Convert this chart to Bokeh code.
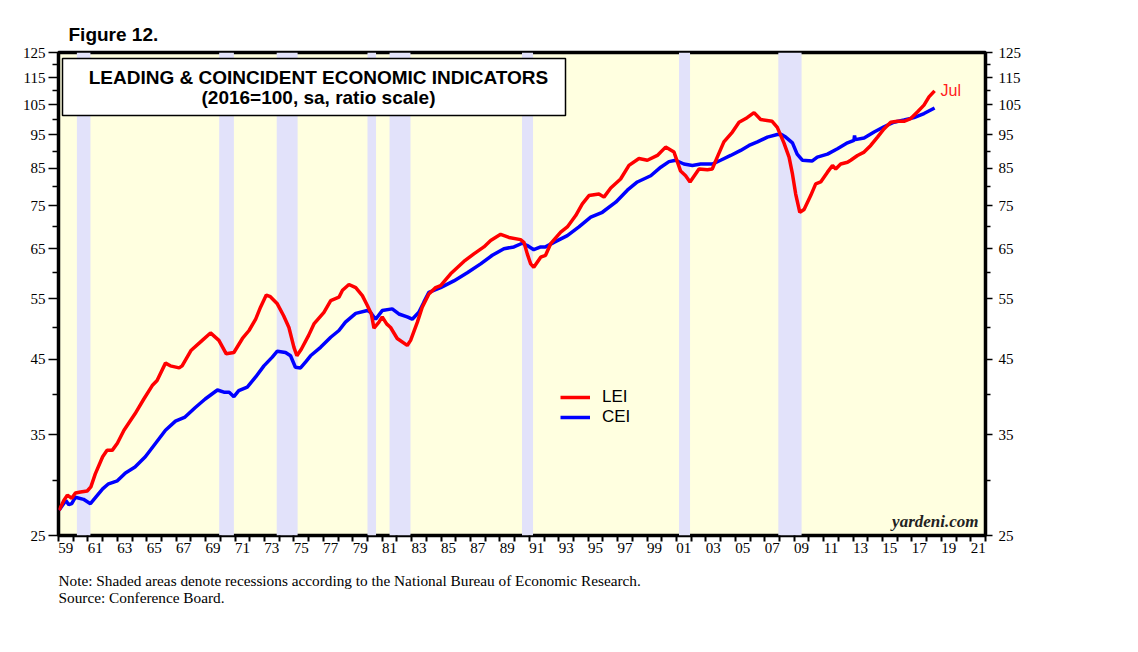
from bokeh.plotting import figure
from bokeh.models import (FixedTicker, LogAxis, Title, Label, BoxAnnotation,
                          Legend, LegendItem, Range1d, BasicTickFormatter)
from bokeh.embed import file_html
from bokeh.resources import INLINE

# ---------------- data ----------------
lei_dates = [1959.04, 1959.36, 1959.6, 1959.9, 1960.15, 1960.5, 1960.95, 1961.2, 1961.5, 1962.0,
             1962.3, 1962.65, 1963.0, 1963.45, 1964.2, 1964.8, 1965.37, 1965.7, 1966.27, 1966.6,
             1967.2, 1967.4, 1968.0, 1968.77, 1969.33, 1969.9, 1970.4, 1970.92, 1971.5, 1971.95,
             1972.4, 1972.73, 1973.12, 1973.4, 1973.87, 1974.3, 1974.66, 1975.0, 1975.2, 1975.5,
             1976.0, 1976.36, 1977.04, 1977.5, 1978.06, 1978.3, 1978.74, 1979.2, 1979.65, 1979.99,
             1980.26, 1980.44, 1980.78, 1981.0, 1981.3, 1981.57, 1982.02, 1982.7, 1982.93, 1983.39,
             1983.72, 1984.17, 1984.63, 1984.97, 1985.65, 1986.55, 1987.23, 1987.91, 1988.37, 1989.05,
             1989.61, 1990.4, 1990.63, 1990.86, 1991.09, 1991.3, 1991.77, 1992.1, 1992.45, 1993.13,
             1993.58, 1994.15, 1994.6, 1995.05, 1995.73, 1996.07, 1996.53, 1997.2, 1997.77, 1998.45,
             1999.02, 1999.7, 2000.26, 2000.83, 2001.28, 2001.62, 2001.92, 2002.53, 2003.1, 2003.43,
             2003.77, 2004.22, 2004.8, 2005.25, 2005.8, 2006.27, 2006.72, 2007.5, 2007.85, 2008.3,
             2008.65, 2008.88, 2009.1, 2009.38, 2009.67, 2010.12, 2010.46, 2010.8, 2011.26, 2011.6,
             2011.82, 2012.16, 2012.62, 2012.84, 2013.3, 2013.75, 2014.2, 2014.66, 2015.1, 2015.56,
             2016.0, 2016.46, 2016.92, 2017.37, 2017.82, 2018.16, 2018.54]
lei_values = [27.2, 28.1, 28.6, 28.3, 28.8, 28.9, 29.0, 29.4, 30.7, 32.5,
              33.2, 33.2, 34.0, 35.5, 37.5, 39.4, 41.2, 41.9, 44.4, 44.0,
              43.7, 44.0, 46.3, 47.9, 49.1, 47.9, 45.8, 46.0, 48.2, 49.5,
              51.4, 53.5, 55.7, 55.4, 54.1, 52.0, 50.0, 46.8, 45.5, 46.5,
              48.7, 50.6, 52.6, 54.7, 55.3, 56.6, 57.7, 57.1, 55.6, 53.8,
              52.3, 49.9, 50.9, 51.8, 50.6, 50.0, 48.2, 47.1, 47.9, 50.9,
              53.5, 55.9, 57.1, 57.5, 59.8, 62.3, 63.9, 65.4, 66.8, 68.2,
              67.5, 67.0, 66.4, 63.9, 61.8, 61.1, 63.2, 63.6, 66.1, 68.7,
              69.9, 72.6, 75.5, 77.6, 78.0, 77.2, 79.6, 82.0, 85.8, 87.8,
              87.3, 88.7, 91.2, 89.7, 84.2, 82.9, 81.2, 84.8, 84.6, 84.8,
              88.2, 92.8, 95.9, 99.1, 100.6, 102.3, 100.0, 99.4, 97.4, 92.5,
              88.2, 83.4, 78.0, 73.4, 74.1, 77.6, 80.7, 81.2, 83.9, 85.8,
              84.8, 86.2, 86.7, 87.3, 88.7, 89.7, 91.7, 94.3, 96.9, 99.1,
              99.4, 99.4, 100.3, 102.5, 104.9, 107.8, 110.0]

cei_dates = [1959.04, 1959.5, 1959.7, 1959.9, 1960.15, 1960.7, 1961.17, 1962.0, 1962.4, 1963.0,
             1963.55, 1964.2, 1964.9, 1965.6, 1966.27, 1966.95, 1967.6, 1968.3, 1968.97, 1969.8,
             1970.24, 1970.6, 1970.92, 1971.25, 1971.83, 1972.4, 1972.96, 1973.53, 1973.87, 1974.43,
             1974.77, 1975.1, 1975.45, 1975.8, 1976.13, 1976.81, 1977.5, 1978.06, 1978.5, 1979.2,
             1979.99, 1980.2, 1980.55, 1981.0, 1981.68, 1982.13, 1982.7, 1983.04, 1983.49, 1983.83,
             1984.17, 1984.97, 1985.87, 1986.78, 1987.69, 1988.48, 1989.27, 1989.95, 1990.52, 1990.86,
             1991.3, 1991.77, 1992.1, 1992.67, 1993.58, 1994.37, 1995.17, 1995.96, 1996.87, 1997.66,
             1998.34, 1999.25, 1999.93, 2000.49, 2000.94, 2001.5, 2002.08, 2002.64, 2003.43, 2004.0,
             2004.68, 2005.36, 2005.93, 2006.5, 2007.18, 2007.85, 2008.1, 2008.42, 2008.88, 2009.2,
             2009.55, 2010.23, 2010.57, 2011.26, 2011.94, 2012.62, 2013.06, 2013.1, 2013.15, 2013.75,
             2014.43, 2015.1, 2015.78, 2016.46, 2017.14, 2017.82, 2018.54]
cei_values = [27.2, 28.1, 27.7, 27.8, 28.4, 28.2, 27.8, 29.2, 29.7, 30.0,
              30.8, 31.4, 32.5, 34.0, 35.5, 36.6, 37.1, 38.3, 39.4, 40.6,
              40.3, 40.3, 39.7, 40.5, 41.0, 42.4, 44.0, 45.3, 46.2, 46.0,
              45.5, 43.8, 43.7, 44.6, 45.5, 46.8, 48.4, 49.5, 50.9, 52.4,
              52.9, 52.6, 51.4, 52.9, 53.2, 52.3, 51.8, 51.4, 52.6, 54.4,
              56.2, 57.1, 58.4, 60.0, 61.8, 63.6, 65.0, 65.4, 66.2, 65.7,
              64.8, 65.4, 65.4, 66.4, 67.9, 69.9, 72.2, 73.4, 75.9, 79.0,
              81.2, 82.9, 85.3, 86.9, 87.3, 86.2, 85.8, 86.2, 86.2, 87.3,
              88.7, 90.2, 91.7, 92.8, 94.3, 95.1, 95.2, 94.3, 92.5, 89.1,
              87.3, 87.1, 88.2, 89.1, 90.7, 92.5, 93.3, 94.8, 93.5, 94.0,
              95.9, 97.6, 99.1, 99.8, 100.6, 102.0, 103.9]

# NBER recessions (start, end as decimal years)
rec_start = [1960.25, 1969.92, 1973.83, 1980.00, 1981.50, 1990.50, 2001.17, 2007.92]
rec_end = [1961.17, 1970.92, 1975.25, 1980.58, 1982.92, 1991.25, 2001.92, 2009.50]

y_ticks = [25, 35, 45, 55, 65, 75, 85, 95, 105, 115, 125]
y_minor_ticks = [30, 40, 50, 60, 70, 80, 90, 100, 110, 120]
year_ticks = list(range(1959, 2023))
x_label_years = list(range(1959, 2022, 2))
x_tick_labels = ["59", "61", "63", "65", "67", "69", "71", "73", "75", "77", "79", "81",
                 "83", "85", "87", "89", "91", "93", "95", "97", "99", "01", "03", "05",
                 "07", "09", "11", "13", "15", "17", "19", "21"]

# ---------------- layout helpers ----------------
X_MIN, X_MAX = 1959, 2022
Y_MIN, Y_MAX = 25, 125
FRAME_W, FRAME_H = 927, 483
FRAME_L, FRAME_T = 58, 52   # canvas px


def xd(px):  # canvas px -> year
    return X_MIN + (px - FRAME_L) * (X_MAX - X_MIN) / FRAME_W


def yd(py):  # canvas px -> value (log scale)
    return Y_MIN * (Y_MAX / Y_MIN) ** ((FRAME_T + FRAME_H - py) / FRAME_H)


p = figure(frame_width=FRAME_W, frame_height=FRAME_H,
           x_range=Range1d(X_MIN, X_MAX), y_range=Range1d(Y_MIN, Y_MAX),
           y_axis_type="log", output_backend="svg", toolbar_location=None,
           min_border_left=FRAME_L, min_border_top=FRAME_T,
           min_border_right=60, min_border_bottom=85)
p.background_fill_color = "#FFFFE0"
p.border_fill_color = "white"
p.outline_line_color = "black"
p.outline_line_width = 3.5
p.grid.visible = False

# recession shading
p.quad(left=rec_start, right=rec_end, bottom=Y_MIN, top=Y_MAX,
       fill_color="#E2E2FA", line_color=None)

cei_r = p.line(cei_dates, cei_values, line_color="#0000FF", line_width=3.5)
lei_r = p.line(lei_dates, lei_values, line_color="#FF0000", line_width=3.5)

# axes
serif = "Liberation Serif"
sans = "Liberation Sans"


def style_y(ax, major_out, minor_out, standoff):
    ax.ticker = FixedTicker(ticks=y_ticks, minor_ticks=y_minor_ticks)
    ax.formatter = BasicTickFormatter()
    ax.axis_line_color = None
    ax.major_tick_in = 0
    ax.major_tick_out = major_out
    ax.minor_tick_in = 0
    ax.minor_tick_out = minor_out
    ax.major_tick_line_width = 1.5
    ax.minor_tick_line_width = 1.5
    ax.major_tick_line_color = "black"
    ax.minor_tick_line_color = "black"
    ax.major_label_text_font = serif
    ax.major_label_text_font_size = "15px"
    ax.major_label_text_color = "black"
    ax.major_label_standoff = standoff


style_y(p.yaxis[0], 10, 6, 3)
right_axis = LogAxis()
style_y(right_axis, 7, 5, 6)
p.add_layout(right_axis, "right")

xa = p.xaxis[0]
label_pos = [yr + 0.5 for yr in x_label_years]
xa.ticker = FixedTicker(ticks=label_pos, minor_ticks=year_ticks)
xa.major_label_overrides = {pos: lab for pos, lab in zip(label_pos, x_tick_labels)}
xa.axis_line_color = None
xa.major_tick_in = 0
xa.major_tick_out = 0
xa.minor_tick_in = 0
xa.minor_tick_out = 6
xa.minor_tick_line_width = 2
xa.minor_tick_line_color = "black"
xa.major_label_text_font = serif
xa.major_label_text_font_size = "15px"
xa.major_label_text_color = "black"
xa.major_label_standoff = 1

# title box
p.add_layout(BoxAnnotation(left=xd(62), right=xd(565), top=yd(58), bottom=yd(115),
                           fill_color="white", fill_alpha=1.0,
                           line_color="black", line_width=1.5, line_alpha=1.0))
p.add_layout(Label(x=xd(318), y=yd(77), text="LEADING & COINCIDENT ECONOMIC INDICATORS",
                   text_align="center", text_baseline="middle", text_font=sans,
                   text_font_style="bold", text_font_size="19px", text_color="black"))
p.add_layout(Label(x=xd(318), y=yd(97), text="(2016=100, sa, ratio scale)",
                   text_align="center", text_baseline="middle", text_font=sans,
                   text_font_style="bold", text_font_size="19px", text_color="black"))

# legend
legend = Legend(items=[LegendItem(label="LEI", renderers=[lei_r]),
                       LegendItem(label="CEI", renderers=[cei_r])],
                location=(502, 108), border_line_color=None, background_fill_alpha=0,
                label_text_font=sans, label_text_font_size="17px", label_text_color="black",
                glyph_width=30, glyph_height=20, label_height=20, padding=0, margin=0,
                spacing=0, label_standoff=12)
p.add_layout(legend)

# Jul label
p.add_layout(Label(x=lei_dates[-1], y=lei_values[-1], text="Jul", x_offset=6,
                   text_baseline="middle", text_font=sans, text_font_size="16px",
                   text_color="#FF2020"))

# yardeni.com
p.add_layout(Label(x=xd(978), y=yd(530), text="yardeni.com", text_align="right",
                   text_baseline="bottom", text_font=serif, text_font_style="bold italic",
                   text_font_size="17px", text_color="#222222"))

# titles
p.add_layout(Title(text="Figure 12.", align="left", offset=10, standoff=15,
                   text_font=sans, text_font_style="bold", text_font_size="19px",
                   text_color="black"), "above")
p.add_layout(Title(text="Note: Shaded areas denote recessions according to the National Bureau of Economic Research.\nSource: Conference Board.",
                   align="left", standoff=28, text_font=serif, text_font_style="normal",
                   text_font_size="15.3px", text_line_height=1.0, text_color="black"), "below")

open("out.html", "w").write(file_html(p, INLINE))
